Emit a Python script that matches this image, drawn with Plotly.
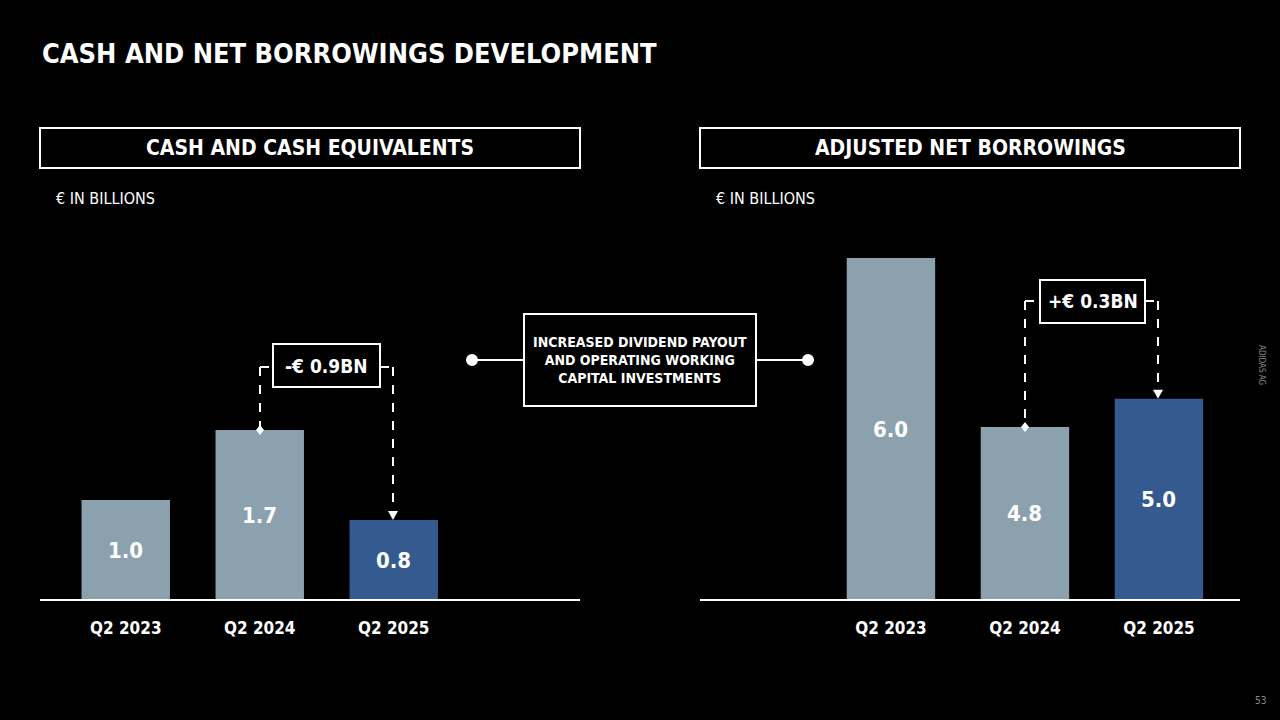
import plotly.graph_objects as go

cats = ["Q2 2023", "Q2 2024", "Q2 2025"]
cash = [1.0, 1.7, 0.8]
borrow = [6.0, 4.8, 5.0]
colors = ["#8ca1ae", "#8ca1ae", "#355a8f"]

W, H = 1280, 720
def px(x): return x / W
def py(y): return 1 - y / H

Y0, Y1 = 600, 220
L_RANGE = [0, 3.8]
R_RANGE = [3.57, 6.27]
def ypix(v, rng):
    return Y0 - (v - rng[0]) / (rng[1] - rng[0]) * (Y0 - Y1)

FONT = "DejaVu Sans Condensed, Liberation Sans Narrow, sans-serif"
fig = go.Figure()
for vals, ax in [(cash, ""), (borrow, "2")]:
    fig.add_trace(go.Bar(x=[0, 1, 2], y=vals, marker=dict(color=colors, line=dict(width=0)), width=0.66,
                         textposition="none",
                         xaxis="x" + ax, yaxis="y" + ax, showlegend=False, hoverinfo="skip"))

ydom = [py(Y0), py(Y1)]
common_x = dict(tickmode="array", tickvals=[0, 1, 2], ticktext=[f"<b>{c}</b>" for c in cats],
                showgrid=False, zeroline=False,
                tickfont=dict(color="white", size=17, family=FONT), ticks="", ticklen=0)
fig.update_layout(
    width=W, height=H, paper_bgcolor="black", plot_bgcolor="black",
    margin=dict(l=0, r=0, t=0, b=0), font=dict(family=FONT, color="white"),
    xaxis=dict(domain=[px(40), px(580)], range=[-0.64, 3.39], anchor="y", **common_x),
    yaxis=dict(domain=ydom, range=L_RANGE, visible=False),
    xaxis2=dict(domain=[px(700), px(1240)], range=[-1.425, 2.605], anchor="y2", **common_x),
    yaxis2=dict(domain=ydom, range=R_RANGE, visible=False),
)
for a in ["xaxis", "xaxis2"]:
    fig.layout[a].update(ticklabelstandoff=16)

shapes, anns = [], []
def line(x0, y0, x1, y1, dash="solid", w=2):
    shapes.append(dict(type="line", xref="paper", yref="paper", x0=px(x0), y0=py(y0), x1=px(x1), y1=py(y1),
                       line=dict(color="white", width=w, dash=dash)))
def rect(x0, y0, x1, y1, w=2):
    shapes.append(dict(type="rect", xref="paper", yref="paper", x0=px(x0), y0=py(y0), x1=px(x1), y1=py(y1),
                       line=dict(color="white", width=w), fillcolor="black", layer="below"))
def text(x, y, t, size=18, color="white", xanchor="center", **kw):
    anns.append(dict(xref="paper", yref="paper", x=px(x), y=py(y), text=t, showarrow=False,
                     xanchor=xanchor, yanchor="middle",
                     font=dict(size=size, color=color, family=FONT), **kw))

for vals, xr, yr, lo in [(cash, "x", "y", L_RANGE[0]), (borrow, "x2", "y2", R_RANGE[0])]:
    for i, v in enumerate(vals):
        anns.append(dict(xref=xr, yref=yr, x=i, y=(lo + v) / 2, text=f"<b>{v:.1f}</b>", showarrow=False,
                         font=dict(size=22, color="white", family=FONT)))

line(40, 600, 580, 600); line(700, 600, 1240, 600)
rect(40, 128, 580, 168); text(310, 148, "<b>CASH AND CASH EQUIVALENTS</b>", 21)
rect(700, 128, 1240, 168); text(970, 148, "<b>ADJUSTED NET BORROWINGS</b>", 21)
text(54, 198, "€ IN BILLIONS", 16, xanchor="left")
text(714, 198, "€ IN BILLIONS", 16, xanchor="left")
text(40, 54, "<b>CASH AND NET BORROWINGS DEVELOPMENT</b>", 27, xanchor="left")

lt1, lt2 = ypix(cash[1], L_RANGE), ypix(cash[2], L_RANGE)
rt1, rt2 = ypix(borrow[1], R_RANGE), ypix(borrow[2], R_RANGE)

line(260, 367, 273, 367, "dash"); line(380, 367, 393, 367, "dash")
line(260, 367, 260, lt1, "dash"); line(393, 367, 393, lt2 - 7, "dash")
rect(273, 344, 380, 387); text(326.5, 366, "<b>-€ 0.9BN</b>", 19)
line(1025, 301, 1040, 301, "dash"); line(1145, 301, 1158, 301, "dash")
line(1025, 301, 1025, rt1, "dash"); line(1158, 301, 1158, rt2 - 7, "dash")
rect(1040, 280, 1145, 323); text(1092.5, 301, "<b>+€ 0.3BN</b>", 19)

line(472, 360, 524, 360); line(756, 360, 808, 360)
rect(524, 314, 756, 406)
text(640, 360, "<b>INCREASED DIVIDEND PAYOUT<br>AND OPERATING WORKING<br>CAPITAL INVESTMENTS</b>", 14)
for x, y in [(472, 360), (808, 360)]:
    shapes.append(dict(type="circle", xref="paper", yref="paper", x0=px(x - 5), x1=px(x + 5),
                       y0=py(y + 5), y1=py(y - 5), fillcolor="white", line=dict(color="white")))
for x, y in [(260, lt1), (1025, rt1)]:
    shapes.append(dict(type="path", xref="paper", yref="paper",
                       path=f"M {px(x)} {py(y-5)} L {px(x+4)} {py(y)} L {px(x)} {py(y+5)} L {px(x-4)} {py(y)} Z",
                       fillcolor="white", line=dict(color="white", width=0)))
for x, y in [(393, lt2), (1158, rt2)]:
    shapes.append(dict(type="path", xref="paper", yref="paper",
                       path=f"M {px(x-5)} {py(y-9)} L {px(x+5)} {py(y-9)} L {px(x)} {py(y)} Z",
                       fillcolor="white", line=dict(color="white", width=0)))

text(1262, 365, "ADIDAS AG", 8, "#888888", textangle=90)
text(1260, 700, "53", 10, "#888888")
fig.update_layout(shapes=shapes, annotations=anns)
fig.write_html("out.html", config={"displayModeBar": False},
               post_script="document.body.style.margin='0';document.body.style.background='black';")
